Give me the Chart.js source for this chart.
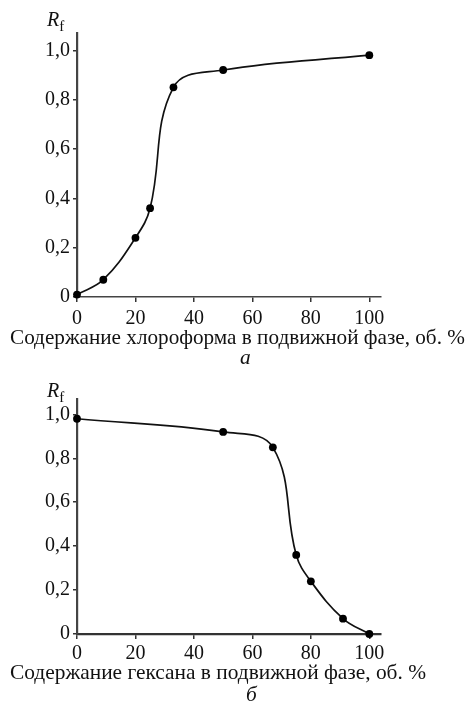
<!DOCTYPE html>
<html>
<head>
<meta charset="utf-8">
<script src="https://cdn.jsdelivr.net/npm/chart.js@4"></script>
<style>
  html, body { margin: 0; padding: 0; background: #fff; }
  body { width: 469px; height: 704px; position: relative; overflow: hidden;
         font-family: "Liberation Serif", "Times New Roman", Times, serif; color: #111; }
  .box { position: absolute; left: 0; width: 469px; }
  .txt { position: absolute; white-space: nowrap; font-size: 21.4px; line-height: 1; }
  .it { font-style: italic; }
  .rf { position: absolute; font-size: 20px; font-style: italic; line-height: 1; }
  .rf sub { font-style: normal; font-size: 15px; vertical-align: baseline; position: relative; top: 5px; }
</style>
</head>
<body>
<div class="box" id="boxA" style="top:0;height:330px;"><canvas id="chartA"></canvas></div>
<div class="box" id="boxB" style="top:360px;height:310px;"><canvas id="chartB"></canvas></div>

<div class="rf" style="left:47px;top:9px;">R<sub>f</sub></div>
<div class="txt" style="left:10px;top:327px;font-size:21.2px;">Содержание хлороформа в подвижной фазе, об. %</div>
<div class="txt it" style="left:240px;top:347px;">а</div>

<div class="rf" style="left:47px;top:380px;">R<sub>f</sub></div>
<div class="txt" style="left:10px;top:662px;">Содержание гексана в подвижной фазе, об. %</div>
<div class="txt it" style="left:246px;top:684px;">б</div>

<script>
// ---- data ----
const chloroformPct = [0, 9, 20, 25, 33, 50, 100];
const chloroformRf  = [0.01, 0.07, 0.24, 0.36, 0.85, 0.92, 0.98];
const hexanePct     = [0, 50, 67, 75, 80, 91, 100];
const hexaneRf      = [0.98, 0.92, 0.85, 0.36, 0.24, 0.07, 0];
const xTickValues   = [0, 20, 40, 60, 80, 100];
const xTickLabels   = ['0', '20', '40', '60', '80', '100'];
const yTickValues   = [0, 0.2, 0.4, 0.6, 0.8, 1.0];
const yTickLabels   = ['0', '0,2', '0,4', '0,6', '0,8', '1,0'];

const FONT = { family: '"Liberation Serif", "Times New Roman", Times, serif', size: 20 };

function makeChart(id, xs, ys, opts) {
  const data = xs.map((x, i) => ({ x: x, y: ys[i] }));
  return new Chart(document.getElementById(id), {
    type: 'line',
    data: { datasets: [{
      data: data,
      borderColor: '#111',
      backgroundColor: '#000',
      borderWidth: 1.7,
      pointRadius: 3.9,
      pointHoverRadius: 3.9,
      pointBorderWidth: 0,
      tension: 0.4,
      clip: false,
      fill: false
    }]},
    options: {
      responsive: true,
      maintainAspectRatio: false,
      animation: false,
      events: [],
      layout: { padding: { top: opts.padTop, left: 0, right: 88, bottom: 0 } },
      plugins: { legend: { display: false }, tooltip: { enabled: false } },
      scales: {
        x: {
          type: 'linear', min: 0, max: 104,
          afterBuildTicks: s => { s.ticks = xTickValues.map(v => ({ value: v })); },
          afterFit: s => { s.height = opts.xHeight; },
          ticks: { font: FONT, color: '#111', padding: opts.xPad, maxRotation: 0,
                   callback: (v) => xTickLabels[xTickValues.indexOf(v)] },
          grid: { drawOnChartArea: false, drawTicks: true, tickLength: 5, color: '#333', lineWidth: 1.5 },
          border: { display: true, color: opts.xBorderColor, width: opts.xBorderWidth }
        },
        y: {
          type: 'linear', min: 0, max: 1.07,
          afterBuildTicks: s => { s.ticks = yTickValues.map(v => ({ value: v })); },
          afterFit: s => { s.width = 77; },
          ticks: { font: FONT, color: '#111', padding: 3,
                   callback: (v) => yTickLabels[yTickValues.indexOf(v)] },
          grid: { drawOnChartArea: false, drawTicks: true, tickLength: 4, color: '#333', lineWidth: 1.5 },
          border: { display: true, color: '#444', width: 2.2 }
        }
      }
    }
  });
}

makeChart('chartA', chloroformPct, chloroformRf,
  { padTop: 33, xHeight: 33, xPad: 5, xBorderColor: '#444', xBorderWidth: 1.6 });
makeChart('chartB', hexanePct, hexaneRf,
  { padTop: 39, xHeight: 36, xPad: 3, xBorderColor: '#333', xBorderWidth: 2.2 });
</script>
</body>
</html>
